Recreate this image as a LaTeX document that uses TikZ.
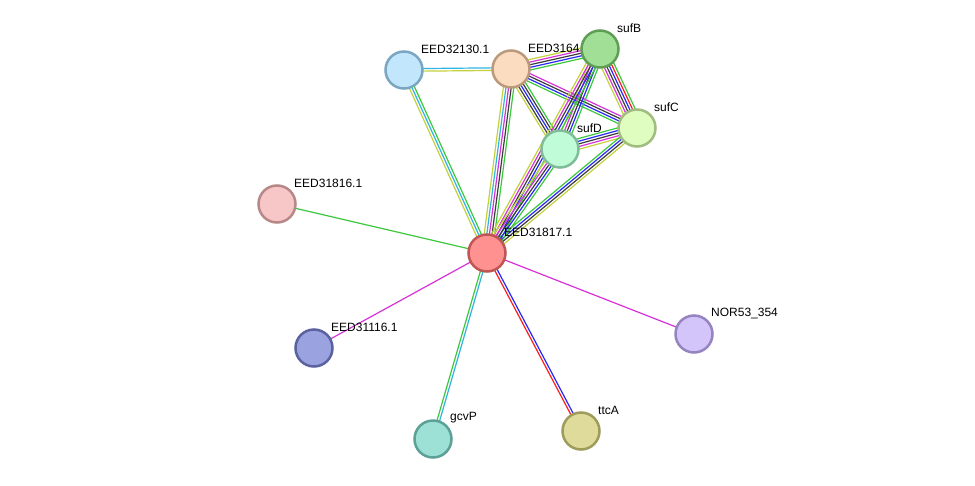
\documentclass[tikz,border=0pt]{standalone}
\usepackage{fontspec}
\setmainfont{Liberation Sans}
\usetikzlibrary{calc}

\definecolor{nbgreen}{RGB}{60,200,60}
\definecolor{fured}{RGB}{250,30,30}
\definecolor{coblue}{RGB}{40,40,250}
\definecolor{cxblack}{RGB}{60,60,60}
\definecolor{exmag}{RGB}{215,50,215}
\definecolor{dbcyan}{RGB}{50,180,225}
\definecolor{tmyel}{RGB}{195,210,60}

\pgfdeclarelayer{paper}
\pgfdeclarelayer{edges}
\pgfsetlayers{paper,edges,main}

% bundle of parallel evidence lines between two proteins
\newcommand{\strlink}[3]{%
  \foreach \col [count=\k] in {#3} {\xdef\nlines{\k}}
  \foreach \col [count=\k] in {#3} {
    \pgfmathsetmacro\off{(\k-(\nlines+1)/2)*2.6}
    \draw[link, color=\col] ($(#1.center)!\off pt!90:(#2.center)$) -- ($(#2.center)!\off pt!-90:(#1.center)$);
  }%
}

\begin{document}
\begin{tikzpicture}[
  x=1pt, y=-1pt,
  prot/.style={circle, minimum size=37pt, inner sep=0pt, line width=2.5pt},
  lbl/.style={anchor=west, inner sep=0pt, font=\fontsize{12}{14}\selectfont},
  link/.style={line width=1.2pt},
]
\begin{pgfonlayer}{paper}
  \fill[white] (0,0) rectangle (975,485);
\end{pgfonlayer}
\useasboundingbox (0,0) rectangle (975,485);

% === PROTEINS ===
\node[prot, fill={rgb,255:red,194;green,230;blue,251}, draw={rgb,255:red,123;green,166;blue,194}] (e32130) at (404,70) {};
\node[lbl] (l32130) at ([shift={(17,-21)}]e32130.center) {EED32130.1};
\node[prot, fill={rgb,255:red,224;green,253;blue,192}, draw={rgb,255:red,160;green,188;blue,128}] (sufC) at (637,128) {};
\node[lbl] (lsufC) at ([shift={(17,-21)}]sufC.center) {sufC};
\node[prot, fill={rgb,255:red,192;green,252;blue,216}, draw={rgb,255:red,128;green,188;blue,152}] (sufD) at (560,149) {};
\node[lbl] (lsufD) at ([shift={(17,-21)}]sufD.center) {sufD};
\node[prot, fill={rgb,255:red,247;green,198;blue,198}, draw={rgb,255:red,183;green,136;blue,136}] (e31816) at (277,204) {};
\node[lbl] (l31816) at ([shift={(17,-21)}]e31816.center) {EED31816.1};
\node[prot, fill={rgb,255:red,255;green,145;blue,145}, draw={rgb,255:red,191;green,85;blue,85}] (e31817) at (487,253) {};
\node[lbl] (l31817) at ([shift={(17,-21)}]e31817.center) {EED31817.1};
\node[prot, fill={rgb,255:red,154;green,162;blue,224}, draw={rgb,255:red,90;green,98;blue,160}] (e31116) at (314,348) {};
\node[lbl] (l31116) at ([shift={(17,-21)}]e31116.center) {EED31116.1};
\node[prot, fill={rgb,255:red,211;green,196;blue,250}, draw={rgb,255:red,149;green,132;blue,192}] (nor354) at (694,334) {};
\node[lbl] (lnor354) at ([shift={(17,-21)}]nor354.center) {NOR53\_354};
\node[prot, fill={rgb,255:red,156;green,224;blue,214}, draw={rgb,255:red,92;green,160;blue,150}] (gcvP) at (433,439) {};
\node[lbl] (lgcvP) at ([shift={(17,-21)}]gcvP.center) {gcvP};
\node[prot, fill={rgb,255:red,223;green,219;blue,154}, draw={rgb,255:red,159;green,155;blue,90}] (ttcA) at (581,431) {};
\node[lbl] (lttcA) at ([shift={(17,-21)}]ttcA.center) {ttcA};
\node[prot, fill={rgb,255:red,252;green,220;blue,192}, draw={rgb,255:red,187;green,154;blue,124}] (e3164) at (511,69) {};
\node[lbl] (l3164) at ([shift={(17,-21)}]e3164.center) {EED3164};
\node[prot, fill={rgb,255:red,160;green,223;blue,149}, draw={rgb,255:red,95;green,158;blue,85}] (sufB) at (600,49) {};
\node[lbl] (lsufB) at ([shift={(17,-21)}]sufB.center) {sufB};

% === EVIDENCE LINES ===
\begin{pgfonlayer}{edges}
  \strlink{e32130}{e3164}{tmyel,dbcyan}
  \strlink{e32130}{e31817}{tmyel,dbcyan,nbgreen}
  \strlink{e3164}{sufB}{nbgreen,coblue,cxblack,exmag,tmyel}
  \strlink{e3164}{sufC}{nbgreen,coblue,cxblack,exmag}
  \strlink{e3164}{sufD}{tmyel,cxblack,coblue,cxblack,nbgreen}
  \strlink{e3164}{e31817}{tmyel,dbcyan,exmag,cxblack,nbgreen}
  \strlink{sufB}{sufC}{tmyel,exmag,cxblack,coblue,fured,nbgreen}
  \strlink{sufB}{sufD}{tmyel,exmag,cxblack,coblue,nbgreen}
  \strlink{sufB}{e31817}{tmyel,exmag,cxblack,coblue,nbgreen}
  \strlink{sufC}{sufD}{nbgreen,coblue,cxblack,exmag,tmyel}
  \strlink{sufC}{e31817}{nbgreen,coblue,cxblack,tmyel}
  \strlink{sufD}{e31817}{tmyel,exmag,cxblack,coblue,nbgreen}
  \strlink{e31816}{e31817}{nbgreen}
  \strlink{e31116}{e31817}{exmag}
  \strlink{nor354}{e31817}{exmag}
  \strlink{gcvP}{e31817}{dbcyan,nbgreen}
  \strlink{ttcA}{e31817}{coblue,fured}
\end{pgfonlayer}
\end{tikzpicture}
\end{document}
